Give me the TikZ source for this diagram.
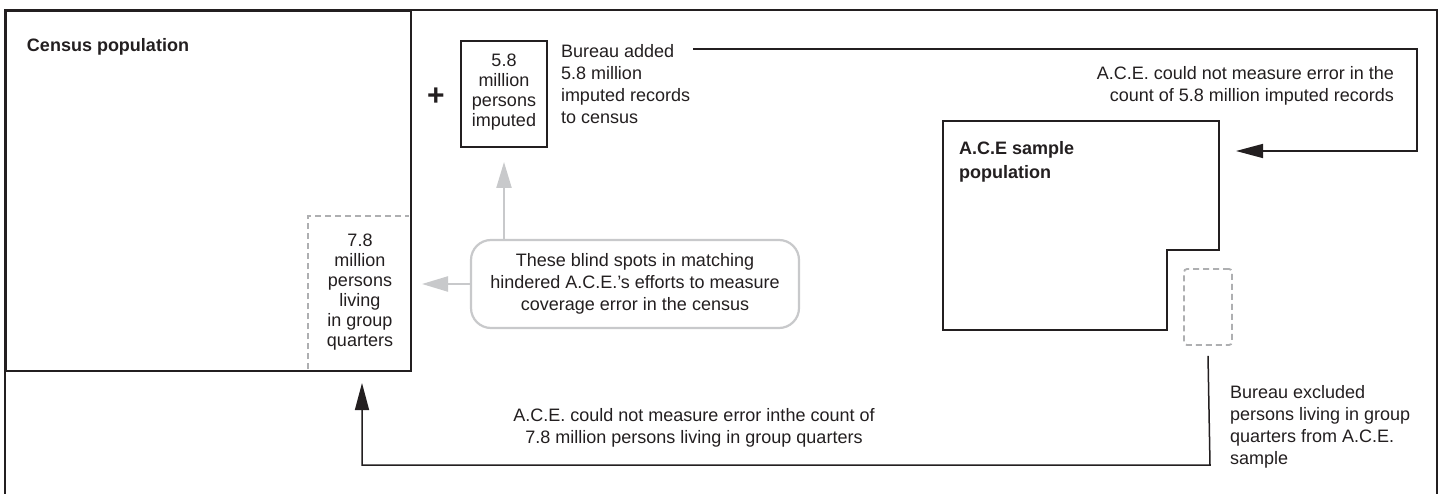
\documentclass[tikz,border=0pt]{standalone}
\usepackage{fontspec}
\setmainfont{Liberation Sans}
\usetikzlibrary{arrows.meta}
\definecolor{ink}{HTML}{231F20}
\definecolor{lgray}{HTML}{C8C9CB}
\definecolor{dgray}{HTML}{AEAFB1}
\begin{document}
\begin{tikzpicture}[x=1pt,y=-1pt,
  txt/.style={inner sep=0pt, outer sep=0pt, text=ink, font=\fontsize{18}{22}\selectfont},
  boxtxt/.style={txt, font=\fontsize{18}{20}\selectfont, align=center},
  heavybox/.style={draw=ink, line width=2.8pt},
  conn/.style={draw=ink, line width=1.5pt},
  blackarrow/.style={conn, -{Triangle[length=27pt,width=14pt]}},
  grayarrow/.style={draw=lgray, line width=2.2pt, -{Triangle[length=26pt,width=15pt]}},
  gqdash/.style={draw=dgray, line width=1.8pt, dash pattern=on 6pt off 4pt},
]
\useasboundingbox (0,0) rectangle (1442,494);
\fill[white] (0,0) rectangle (1442,494);

% outer frame (open at the bottom)
\draw[conn] (5,494) -- (5,10) -- (1437,10) -- (1437,494);

% census population box
\node[heavybox, inner sep=0pt, outer sep=0pt, minimum width=405pt, minimum height=360pt] (census) at (208.5,191) {};
\node[txt, font=\bfseries\fontsize{18}{22}\selectfont, anchor=base west] (censuslabel) at (27,52) {Census population};

% group quarters part (dashed)
\draw[gqdash] (308,369) -- (308,216) -- (409,216);
\node[boxtxt] (gqtext) at (360,292) {7.8\\million\\persons\\living\\in group\\quarters};

% plus and imputed box
\node[txt, font=\bfseries\fontsize{30}{30}\selectfont] (plus) at (436,97) {+};
\node[heavybox, line width=2.4pt, inner sep=0pt, outer sep=0pt, minimum width=86pt, minimum height=106pt] (imp) at (504,94) {};
\node[boxtxt] (imptext) at (504,92) {5.8\\million\\persons\\imputed};
\node[txt, align=left, anchor=west] (added) at (561,84) {Bureau added\\5.8 million\\imputed records\\to census};
\coordinate (addedEnd) at (693,49);

% A.C.E. sample population
\draw[heavybox] (943,121) -- (1219,121) -- (1219,250) -- (1167,250) -- (1167,330) -- (943,330) -- cycle;
\coordinate (ace) at (1219,151);
\node[txt, font=\bfseries\fontsize{18}{24}\selectfont, align=left, anchor=west] (acelabel) at (959,162) {A.C.E sample\\population};

% excluded group quarters
\node[gqdash, rounded corners=3pt, inner sep=0pt, minimum width=48pt, minimum height=76pt] (excl) at (1208,307) {};

% labels
\node[txt, align=right, anchor=east] (imperr) at (1394,86) {A.C.E. could not measure error in the\\count of 5.8 million imputed records};
\node[txt, align=center] (gqerr) at (694,428) {A.C.E. could not measure error inthe count of\\7.8 million persons living in group quarters};
\node[txt, align=left, anchor=west] (excltext) at (1230,427) {Bureau excluded\\persons living in group\\quarters from A.C.E.\\sample};

% callout
\node[draw=lgray, line width=2.2pt, rounded corners=20pt, minimum width=328pt, minimum height=88pt, txt, align=center] (callout) at (635,284) {These blind spots in matching\\hindered A.C.E.’s efforts to measure\\coverage error in the census};
\draw[grayarrow] (callout.north -| imp.south) -- ([yshift=-15pt]imp.south);
\draw[grayarrow] (callout.west) -- ([xshift=11pt]census.east |- callout.west);

% black connectors
\draw[blackarrow] (addedEnd) -- (1417,49) -- (1417,151) -- ([xshift=17pt]ace);
\draw[blackarrow] ([yshift=-10pt]excl.south) -- (1210,465) -- (362,465) -- ([yshift=-12pt]census.south -| 362,0);
\end{tikzpicture}
\end{document}
